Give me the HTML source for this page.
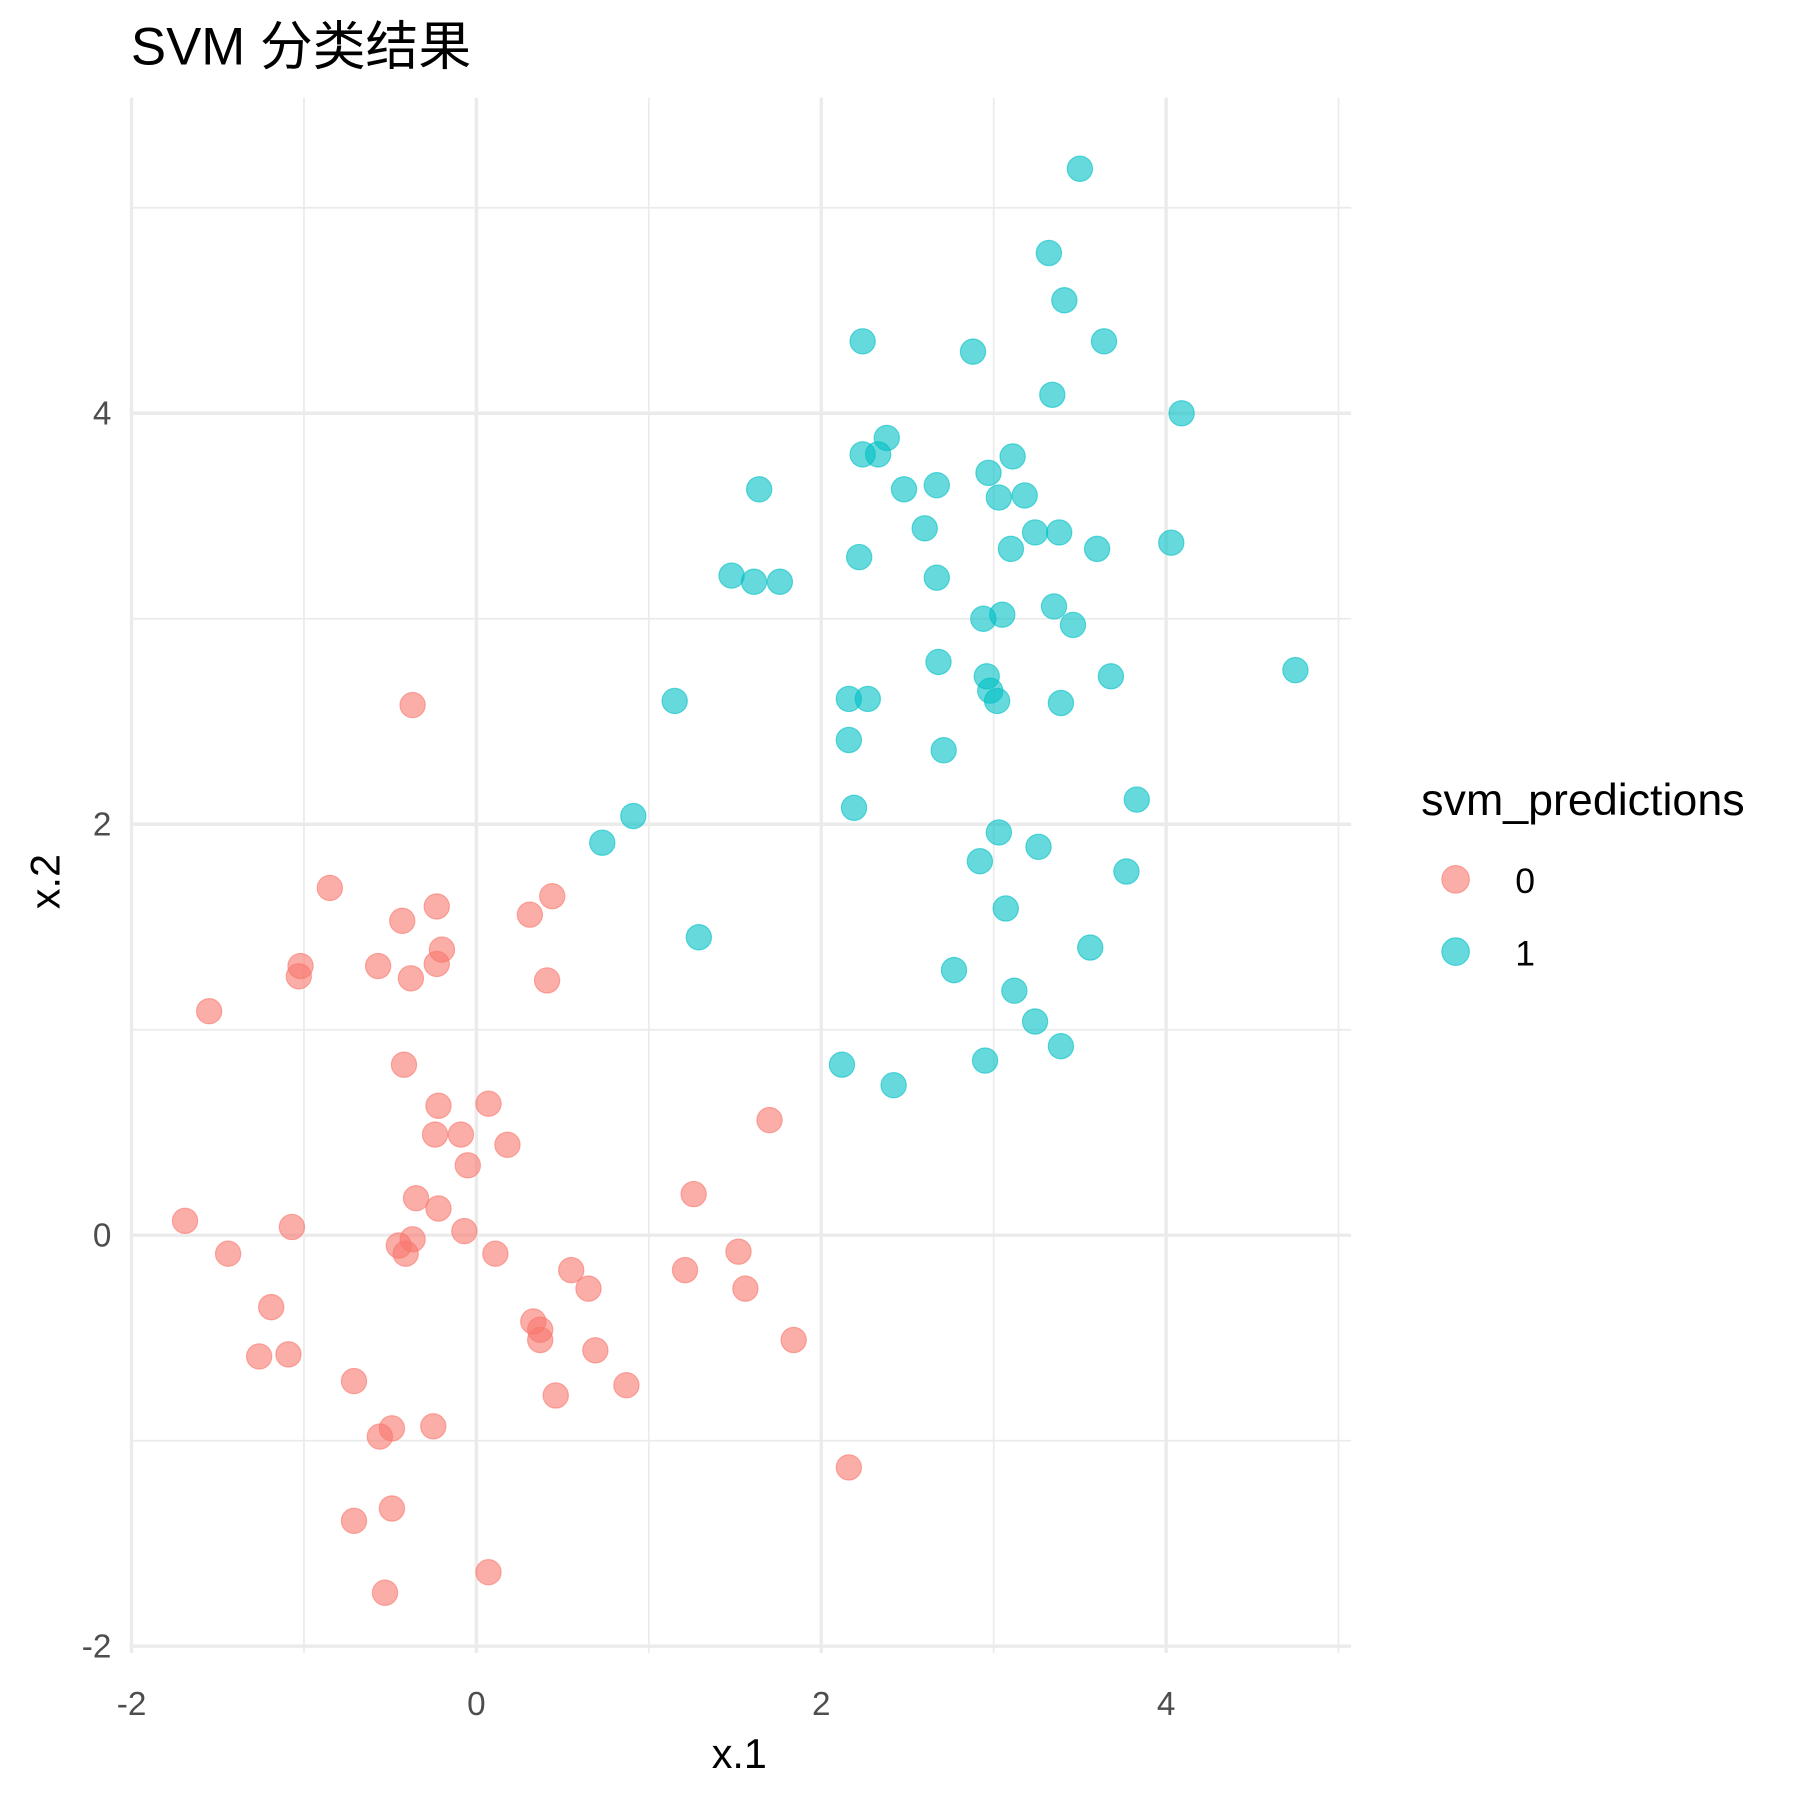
<!DOCTYPE html>
<html><head><meta charset="utf-8"><style>
html,body{margin:0;padding:0;background:#fff;}
svg{display:block;}
text{font-family:"Liberation Sans","Noto Sans CJK SC",sans-serif;}
</style></head><body>
<svg id="chart" width="1800" height="1800" viewBox="0 0 1568 1568" xmlns="http://www.w3.org/2000/svg">
<rect width="1568" height="1568" fill="#fff"/>
<g id="grid"></g>
<g id="points"></g>
<g id="axes"></g>
<text x="114" y="56" font-size="46" fill="#000">SVM 分类结果</text>
<text x="644" y="1540" font-size="36" text-anchor="middle" fill="#000">x.1</text>
<text transform="translate(52,768) rotate(-90)" font-size="36" text-anchor="middle" fill="#000">x.2</text>
<g>
<text x="1238" y="710" font-size="39" fill="#000">svm_predictions</text>
<circle cx="1268" cy="766" r="12" fill="#F8766D" fill-opacity="0.6" stroke="#F8766D" stroke-opacity="0.6"/>
<text x="1320" y="778" font-size="31" fill="#000">0</text>
<circle cx="1268" cy="829" r="12" fill="#00BFC4" fill-opacity="0.6" stroke="#00BFC4" stroke-opacity="0.6"/>
<text x="1320" y="841" font-size="31" fill="#000">1</text>
</g>
</svg>
<script>
const redX=[-0.37,-0.85,-0.43,-0.23,0.31,0.44,-1.02,-1.03,-0.57,-0.38,-0.23,-0.20,0.41,-1.55,-0.42,-0.22,0.07,-0.24,-0.09,-0.05,0.18,1.70,1.26,-0.35,-0.22,-1.69,-1.07,-0.07,-0.37,-0.45,-0.41,-1.44,0.11,1.52,0.55,1.21,0.65,1.56,-1.19,0.33,0.37,0.37,1.84,-1.26,-1.09,0.69,0.87,-0.71,0.46,-0.49,-0.56,-0.25,2.16,-0.49,-0.71,0.07,-0.53];
const redY=[2.58,1.69,1.53,1.60,1.56,1.65,1.31,1.26,1.31,1.25,1.32,1.39,1.24,1.09,0.83,0.63,0.64,0.49,0.49,0.34,0.44,0.56,0.20,0.18,0.13,0.07,0.04,0.02,-0.02,-0.05,-0.09,-0.09,-0.09,-0.08,-0.17,-0.17,-0.26,-0.26,-0.35,-0.42,-0.46,-0.51,-0.51,-0.59,-0.58,-0.56,-0.73,-0.71,-0.78,-0.94,-0.98,-0.93,-1.13,-1.33,-1.39,-1.64,-1.74];
const blueX=[3.50,3.32,3.41,2.24,3.64,2.88,3.34,4.09,2.38,2.24,2.33,3.11,2.97,2.67,2.48,1.64,3.03,3.18,2.60,3.24,3.38,4.03,3.10,3.60,2.22,1.48,1.61,1.76,2.67,3.35,3.05,2.94,3.46,2.68,4.75,3.68,2.96,2.98,3.02,1.15,2.16,2.27,3.39,2.16,2.71,3.83,2.19,0.91,3.03,0.73,3.26,2.92,3.77,3.07,1.29,3.56,2.77,3.12,3.24,3.39,2.12,2.95,2.42];
const blueY=[5.19,4.78,4.55,4.35,4.35,4.30,4.09,4.00,3.88,3.80,3.80,3.79,3.71,3.65,3.63,3.63,3.59,3.60,3.44,3.42,3.42,3.37,3.34,3.34,3.30,3.21,3.18,3.18,3.20,3.06,3.02,3.00,2.97,2.79,2.75,2.72,2.72,2.65,2.60,2.60,2.61,2.61,2.59,2.41,2.36,2.12,2.08,2.04,1.96,1.91,1.89,1.82,1.77,1.59,1.45,1.40,1.29,1.19,1.04,0.92,0.83,0.85,0.73];
const xTicks=[-2,0,2,4];
const yTicks=[-2,0,2,4];
const xMinor=[-1,1,3,5];
const yMinor=[-1,1,3,5];
const NS="http://www.w3.org/2000/svg";
const PL=115,PR=1177,PT=85,PB=1440;
function sx(v){return 415+v*150.2;}
function sy(v){return 1076-v*179;}
function mk(tag,attrs,parent){const e=document.createElementNS(NS,tag);for(const k in attrs)e.setAttribute(k,attrs[k]);parent.appendChild(e);return e;}
const grid=document.getElementById('grid');
xMinor.forEach(v=>{const l=mk('line',{x1:sx(v),x2:sx(v),y1:PT,y2:PB,stroke:'#ebebeb','stroke-width':1.5},grid);

});
yMinor.forEach(v=>{const l=mk('line',{x1:PL,x2:PR,y1:sy(v),y2:sy(v),stroke:'#ebebeb','stroke-width':1.5},grid);

});
xTicks.forEach(v=>{const l=mk('line',{x1:sx(v),x2:sx(v),y1:PT,y2:PB,stroke:'#ebebeb','stroke-width':3},grid);

});
yTicks.forEach(v=>{const l=mk('line',{x1:PL,x2:PR,y1:sy(v),y2:sy(v),stroke:'#ebebeb','stroke-width':3},grid);

});
const axes=document.getElementById('axes');
xTicks.forEach(v=>{const t=mk('text',{x:sx(v),y:1494,'font-size':29,'text-anchor':'middle',fill:'#4d4d4d'},axes);t.textContent=String(v);

});
yTicks.forEach(v=>{const t=mk('text',{x:97,y:sy(v)+10,'font-size':29,'text-anchor':'end',fill:'#4d4d4d'},axes);t.textContent=String(v);

});
const pts=document.getElementById('points');
redX.forEach((x,i)=>{const c=mk('circle',{cx:sx(x),cy:sy(redY[i]),r:11,fill:'#F8766D','fill-opacity':0.6,stroke:'#F8766D','stroke-opacity':0.6},pts);

});
blueX.forEach((x,i)=>{const c=mk('circle',{cx:sx(x),cy:sy(blueY[i]),r:11,fill:'#00BFC4','fill-opacity':0.6,stroke:'#00BFC4','stroke-opacity':0.6},pts);

});
</script>
</body></html>
